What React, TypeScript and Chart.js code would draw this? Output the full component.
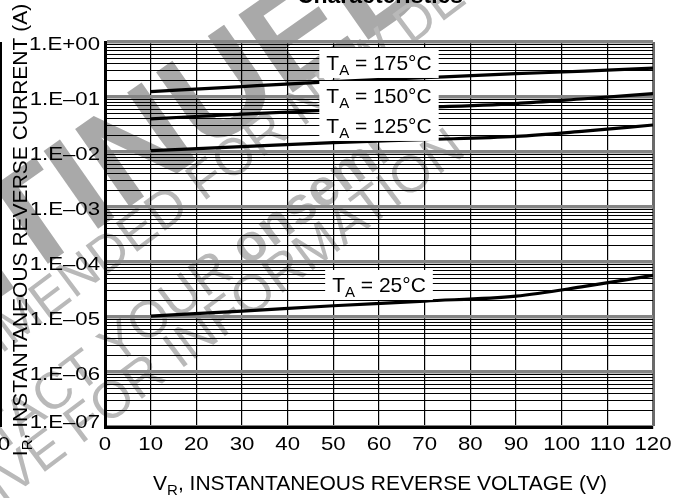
import React, { useEffect, useRef } from "react";
import { Chart, registerables } from "chart.js";

Chart.register(...registerables);

// ---- data ----
const voltages = [10, 30, 50, 70, 90, 105, 120];
const current175 = [0.125, 0.155, 0.19, 0.225, 0.265, 0.295, 0.335];
const current150 = [0.04, 0.049, 0.058, 0.065, 0.076, 0.093, 0.115];
const current125 = [0.0106, 0.0125, 0.0148, 0.0168, 0.0192, 0.024, 0.031];
const current25 = [1.04e-5, 1.28e-5, 1.6e-5, 1.95e-5, 2.4e-5, 3.6e-5, 5.7e-5];
const temperatures = ["175", "150", "125", "25"];
const labelVoltage = [60, 60, 60, 60];
const labelCurrent = [0.31, 0.0778, 0.0222, 2.85e-5];
const xTickValues = [0, 10, 20, 30, 40, 50, 60, 70, 80, 90, 100, 110, 120];
const yExponents = [-7, -6, -5, -4, -3, -2, -1, 0];
const yTickLabels = ["1.E–07", "1.E–06", "1.E–05", "1.E–04", "1.E–03", "1.E–02", "1.E–01", "1.E+00"];
const titleText = "Characteristics";
const xTitleMain = "V";
const xTitleSub = "R";
const xTitleRest = ", INSTANTANEOUS REVERSE VOLTAGE (V)";
const yTitleMain = "I";
const yTitleSub = "R";
const yTitleRest = ", INSTANTANEOUS REVERSE CURRENT (A)";

const FONT = '"Liberation Sans", Arial, Helvetica, sans-serif';
const TICK_SIZE = 18.5;
const TICK_STRETCH = 1.2;

const isDecade = (v: number) => {
  const l = Math.log10(v);
  return Math.abs(l - Math.round(l)) < 1e-6;
};

function drawSubText(
  ctx: CanvasRenderingContext2D,
  main: string,
  sub: string,
  rest: string,
  x: number,
  y: number,
  size: number,
  center: boolean
) {
  const subSize = Math.round(size * 0.72);
  ctx.font = `${size}px ${FONT}`;
  const wM = ctx.measureText(main).width;
  const wR = ctx.measureText(rest).width;
  ctx.font = `${subSize}px ${FONT}`;
  const wS = ctx.measureText(sub).width;
  const total = wM + wS + wR;
  const left = center ? x - total / 2 : x;
  ctx.textAlign = "left";
  ctx.textBaseline = "alphabetic";
  ctx.font = `${size}px ${FONT}`;
  ctx.fillText(main, left, y);
  ctx.font = `${subSize}px ${FONT}`;
  ctx.fillText(sub, left + wM, y + size * 0.24);
  ctx.font = `${size}px ${FONT}`;
  ctx.fillText(rest, left + wM + wS, y);
  return { left, total };
}

function drawStretched(ctx: CanvasRenderingContext2D, text: string, x: number, y: number, align: CanvasTextAlign) {
  ctx.save();
  ctx.translate(x, y);
  ctx.scale(TICK_STRETCH, 1);
  ctx.font = `${TICK_SIZE}px ${FONT}`;
  ctx.textAlign = align;
  ctx.textBaseline = "alphabetic";
  ctx.fillText(text, 0, 0);
  ctx.restore();
}

type WM = { text: string; prefix: string; size: number; bold: boolean; color: string; ax: number; ay: number; angle: number; boldPart?: string };
const watermarks: WM[] = [
  { text: "DISCONTINUED", prefix: "DISCONTI", size: 138, bold: true, color: "#a9a9a9", ax: 122, ay: 212, angle: -35 },
  { text: "NOT RECOMMENDED FOR NEW DESIGN", prefix: "NOT RECOMMENDED ", size: 52, bold: false, color: "#b9b9b9", ax: 203, ay: 202, angle: -37 },
  { text: "CONTACT YOUR ", prefix: "CONTACT YOUR ", size: 52, bold: false, color: "#b9b9b9", ax: 247, ay: 267, angle: -37, boldPart: "onsemi" },
  { text: "REPRESENTATIVE FOR INFORMATION", prefix: "REPRESENTATIVE FOR ", size: 52, bold: false, color: "#b9b9b9", ax: 180, ay: 370, angle: -37 },
];

const decorPlugin = {
  id: "decor",
  beforeDraw(chart: any) {
    const ctx: CanvasRenderingContext2D = chart.ctx;
    ctx.save();
    ctx.fillStyle = "#fff";
    ctx.fillRect(0, 0, chart.width, chart.height);
    for (const w of watermarks) {
      ctx.save();
      ctx.translate(w.ax, w.ay);
      ctx.rotate((w.angle * Math.PI) / 180);
      ctx.font = `${w.bold ? "bold " : ""}${w.size}px ${FONT}`;
      const pw = ctx.measureText(w.prefix).width;
      ctx.fillStyle = w.color;
      ctx.textAlign = "left";
      ctx.textBaseline = "alphabetic";
      ctx.fillText(w.text, -pw, 0);
      if (w.boldPart) {
        ctx.font = `bold ${w.size}px ${FONT}`;
        ctx.fillText(w.boldPart, 0, 0);
      }
      ctx.restore();
    }
    ctx.restore();
  },
  afterDatasetsDraw(chart: any) {
    const ctx: CanvasRenderingContext2D = chart.ctx;
    const xs = chart.scales.x;
    const ys = chart.scales.y;
    ctx.save();
    temperatures.forEach((t, i) => {
      const cx = xs.getPixelForValue(labelVoltage[i]);
      const by = ys.getPixelForValue(labelCurrent[i]);
      const size = 21;
      ctx.font = `${size}px ${FONT}`;
      const wT = ctx.measureText("T").width;
      const rest = ` = ${t}°C`;
      const wR = ctx.measureText(rest).width;
      ctx.font = `15px ${FONT}`;
      const wA = ctx.measureText("A").width;
      const total = wT + wA + wR;
      const left = cx - total / 2;
      ctx.fillStyle = "#fff";
      ctx.fillRect(left - 7, by - 22, total + 14, 30);
      ctx.fillStyle = "#000";
      drawSubText(ctx, "T", "A", rest, left, by, size, false);
    });
    ctx.restore();
  },
  afterDraw(chart: any) {
    const ctx: CanvasRenderingContext2D = chart.ctx;
    const area = chart.chartArea;
    const xs = chart.scales.x;
    const ys = chart.scales.y;
    ctx.save();
    ctx.fillStyle = "#000";
    // tick labels (slightly wide lettering as in the reference)
    xTickValues.forEach((v) => {
      drawStretched(ctx, String(v), xs.getPixelForValue(v), area.bottom + 23, "center");
    });
    yExponents.forEach((e, i) => {
      const py = ys.getPixelForValue(Math.pow(10, e));
      const base = i === 0 ? py + 1 : py + 8;
      drawStretched(ctx, yTickLabels[i], area.left - 5, base, "right");
    });
    // title (clipped at top, as in the reference)
    ctx.font = `bold 23px ${FONT}`;
    ctx.textAlign = "center";
    ctx.textBaseline = "alphabetic";
    ctx.fillText(titleText, 380, 3);
    // x title
    drawSubText(ctx, xTitleMain, xTitleSub, xTitleRest, (area.left + area.right) / 2 + 1, 490, 21, true);
    // y title
    ctx.save();
    ctx.translate(27, 230);
    ctx.rotate(-Math.PI / 2);
    drawSubText(ctx, yTitleMain, yTitleSub, yTitleRest, 0, 0, 21, true);
    ctx.restore();
    // neighbour figure remnants at the left edge
    ctx.fillRect(0, area.top, 2, area.bottom - area.top);
    drawStretched(ctx, "0", 4, area.bottom + 23, "center");
    ctx.restore();
  },
};

export default function App() {
  const canvasRef = useRef<HTMLCanvasElement | null>(null);

  useEffect(() => {
    if (!canvasRef.current) return;
    const series = [current175, current150, current125, current25];
    const chart = new Chart(canvasRef.current, {
      type: "line",
      data: {
        datasets: series.map((s, i) => ({
          label: `TA = ${temperatures[i]}°C`,
          data: voltages.map((v, j) => ({ x: v, y: s[j] })),
          borderColor: "#000",
          borderWidth: 3.2,
          pointRadius: 0,
          fill: false,
          cubicInterpolationMode: "monotone" as const,
        })),
      },
      options: {
        animation: false,
        responsive: false,
        devicePixelRatio: 1,
        layout: { padding: { top: 42, right: 24, left: 0, bottom: 0 } },
        plugins: {
          legend: { display: false },
          tooltip: { enabled: false },
          title: { display: false },
        },
        scales: {
          x: {
            type: "linear",
            min: 0,
            max: 120,
            afterBuildTicks: (s: any) => {
              s.ticks = xTickValues.map((v) => ({ value: v }));
            },
            afterFit: (s: any) => {
              s.height = 71;
            },
            ticks: { display: false, autoSkip: false },
            grid: {
              drawTicks: false,
              color: (c: any) => (c.tick && c.tick.value === 120 ? "#6a6a6a" : "#000"),
              lineWidth: (c: any) => (c.tick && c.tick.value === 120 ? 3 : 1.2),
            },
            border: { display: true, color: "#000", width: 3 },
          },
          y: {
            type: "logarithmic",
            min: 1e-7,
            max: 1,
            afterBuildTicks: (s: any) => {
              const t: { value: number }[] = [];
              yExponents.forEach((e) => {
                if (e === 0) {
                  t.push({ value: 1 });
                  return;
                }
                for (let m = 1; m <= 9; m++) t.push({ value: parseFloat((m * Math.pow(10, e)).toPrecision(6)) });
              });
              s.ticks = t;
            },
            afterFit: (s: any) => {
              s.width = 105;
            },
            ticks: { display: false, autoSkip: false },
            grid: {
              drawTicks: false,
              color: (c: any) => (c.tick && isDecade(c.tick.value) ? "#858585" : "#000"),
              lineWidth: (c: any) => (c.tick && isDecade(c.tick.value) ? 3.5 : 1.1),
            },
            border: { display: true, color: "#000", width: 3 },
          },
        },
      },
      plugins: [decorPlugin],
    });
    return () => chart.destroy();
  }, []);

  return (
    <div style={{ position: "fixed", left: 0, top: 0, width: 677, height: 498, background: "#fff" }}>
      <canvas ref={canvasRef} width={677} height={498} style={{ display: "block", width: 677, height: 498 }} />
    </div>
  );
}
